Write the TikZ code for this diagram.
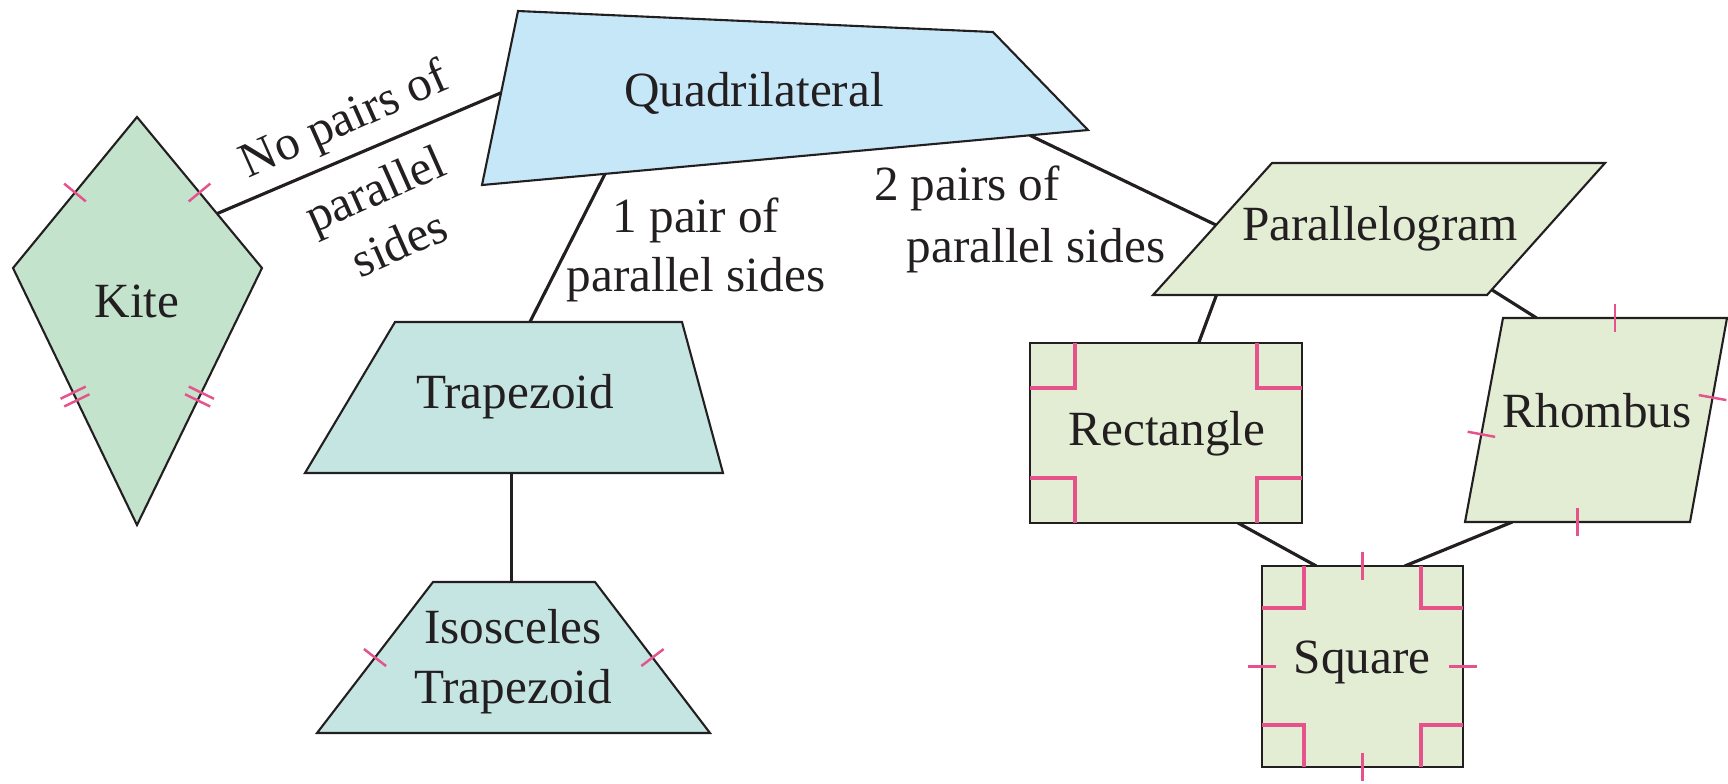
\documentclass[tikz,border=0pt]{standalone}
\usepackage{fontspec}
\setmainfont{Liberation Serif}
\usepackage{tikz}
\usetikzlibrary{calc}
\definecolor{inkc}{HTML}{231F20}
\definecolor{markc}{HTML}{E5528C}
\definecolor{quadc}{HTML}{C6E7F8}
\definecolor{kitec}{HTML}{C3E3CD}
\definecolor{trapc}{HTML}{C5E5E3}
\definecolor{parac}{HTML}{E2EDD4}
\tikzset{
  shp/.style={draw=inkc,line width=0.6pt},
  conn/.style={inkc,line width=0.9pt},
  hashmark/.style={markc,line width=0.7pt},
  rmark/.style={markc,line width=0.9pt},
  txt/.style={font=\fontsize{14}{17}\selectfont,text=inkc,inner sep=0pt,anchor=base},
  mtxt/.style={txt,align=center,anchor=center}
}
\begin{document}
\begin{tikzpicture}[x=0.1mm,y=-0.1mm]
\useasboundingbox (0,0) rectangle (1728,783);
% corners of the figures
\coordinate (q1) at (518,11); \coordinate (q2) at (993,32); \coordinate (q3) at (1088,130); \coordinate (q4) at (482,185);
\coordinate (kt) at (137,117); \coordinate (kr) at (262,268); \coordinate (kb) at (137,525); \coordinate (kl) at (13,268);
\coordinate (t1) at (395,322); \coordinate (t2) at (682,322); \coordinate (t3) at (723,473); \coordinate (t4) at (305,473);
\coordinate (i1) at (433,582); \coordinate (i2) at (595,582); \coordinate (i3) at (710,733); \coordinate (i4) at (317,733);
\coordinate (p1) at (1272,163); \coordinate (p2) at (1605,163); \coordinate (p3) at (1487,295); \coordinate (p4) at (1153,295);
\coordinate (r1) at (1030,343); \coordinate (r2) at (1302,343); \coordinate (r3) at (1302,523); \coordinate (r4) at (1030,523);
\coordinate (h1) at (1503,318); \coordinate (h2) at (1727,318); \coordinate (h3) at (1690,522); \coordinate (h4) at (1465,522);
\coordinate (s1) at (1262,566); \coordinate (s2) at (1463,566); \coordinate (s3) at (1463,767); \coordinate (s4) at (1262,767);
% connector ends
\coordinate (ck1) at ($(kt)!0.64!(kr)$); \coordinate (ck2) at ($(q1)!0.47!(q4)$);
\coordinate (ct1) at ($(q4)!0.203!(q3)$); \coordinate (ct2) at ($(t1)!0.47!(t2)$);
\coordinate (ci1) at ($(t4)!0.495!(t3)$);
\coordinate (cp1) at ($(q4)!0.904!(q3)$); \coordinate (cp2) at ($(p4)!0.53!(p1)$);
\coordinate (cr1) at ($(p4)!0.19!(p3)$); \coordinate (cr2) at ($(r1)!0.62!(r2)$);
\coordinate (ch1) at ($(p3)!0.04!(p2)$); \coordinate (ch2) at ($(h1)!0.15!(h2)$);
\coordinate (cs1) at ($(r4)!0.765!(r3)$); \coordinate (cs2) at ($(s1)!0.27!(s2)$);
\coordinate (cs3) at ($(h4)!0.21!(h3)$); \coordinate (cs4) at ($(s1)!0.71!(s2)$);
\draw[conn] (ck1) -- (ck2);
\draw[conn] (ct1) -- (ct2);
\draw[conn] (ci1) -- (ci1 |- i1);
\draw[conn] (cp1) -- (cp2);
\draw[conn] (cr1) -- (cr2);
\draw[conn] (ch1) -- (ch2);
\draw[conn] (cs1) -- (cs2);
\draw[conn] (cs3) -- (cs4);
% figures
\filldraw[shp,fill=quadc] (q1)--(q2)--(q3)--(q4)--cycle;
\filldraw[shp,fill=kitec] (kt)--(kr)--(kb)--(kl)--cycle;
\filldraw[shp,fill=trapc] (t1)--(t2)--(t3)--(t4)--cycle;
\filldraw[shp,fill=trapc] (i1)--(i2)--(i3)--(i4)--cycle;
\filldraw[shp,fill=parac] (p1)--(p2)--(p3)--(p4)--cycle;
\filldraw[shp,fill=parac] (r1)--(r2)--(r3)--(r4)--cycle;
\filldraw[shp,fill=parac] (h1)--(h2)--(h3)--(h4)--cycle;
\filldraw[shp,fill=parac] (s1)--(s2)--(s3)--(s4)--cycle;
% equal sides and right angles
\foreach \a/\b/\f in {kt/kl/0.5,kt/kr/0.5,i1/i4/0.5,i2/i3/0.5,h1/h2/0.5,h4/h3/0.5,h1/h4/0.57,h2/h3/0.39,s1/s2/0.5,s2/s3/0.5,s3/s4/0.5,s4/s1/0.5}
  \draw[hashmark] ($(\a)!\f!(\b)!0.14cm!90:(\b)$) -- ($(\a)!\f!(\b)!0.14cm!-90:(\b)$);
\foreach \a/\b in {kl/kb,kr/kb}
  \foreach \f in {0.485,0.515}
    \draw[hashmark] ($(\a)!\f!(\b)!0.14cm!90:(\b)$) -- ($(\a)!\f!(\b)!0.14cm!-90:(\b)$);
\foreach \c/\sx/\sy in {r1/1/1,r2/-1/1,r3/-1/-1,r4/1/-1}
  \draw[rmark] ($(\c)+(\sx*45,0)$) |- ($(\c)+(0,\sy*45)$);
\foreach \c/\sx/\sy in {s1/1/1,s2/-1/1,s3/-1/-1,s4/1/-1}
  \draw[rmark] ($(\c)+(\sx*42,0)$) |- ($(\c)+(0,\sy*42)$);
% texts
\node[txt] (quadtxt) at (754,106) {Quadrilateral};
\node[txt] (kitetxt) at (137,317) {Kite};
\node[txt] (traptxt) at (515,408) {Trapezoid};
\node[mtxt] (isotxt) at (513,662) {Isosceles\\Trapezoid};
\node[txt] (paratxt) at (1380,240) {Parallelogram};
\node[txt] (recttxt) at (1167,445) {Rectangle};
\node[txt] (rhomtxt) at (1597,427) {Rhombus};
\node[txt] (sqtxt) at (1362,673) {Square};
\node[mtxt,rotate=24] (nolbl) at (371,180) {No pairs of\\[5pt]parallel\\sides};
\node[mtxt] (onelbl) at (696,250) {1 pair of\\parallel sides};
\node[txt] (twolbla) at (967,200) {2 pairs of};
\node[txt] (twolblb) at (1036,262) {parallel sides};
\end{tikzpicture}
\end{document}
